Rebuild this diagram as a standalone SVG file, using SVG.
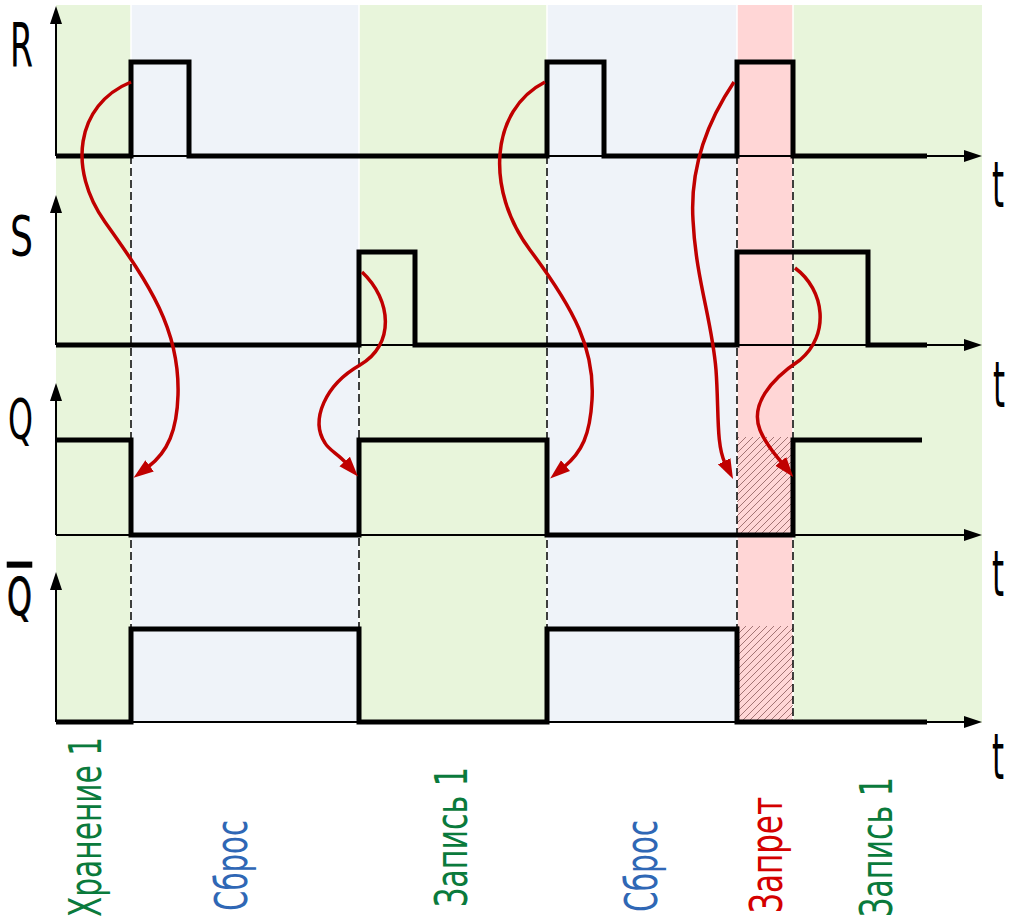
<svg xmlns="http://www.w3.org/2000/svg" width="1013" height="920" viewBox="0 0 1013 920">
<style>
.bg-g{fill:#e8f5db}
.bg-b{fill:#eff3f9}
.bg-r{fill:#ffd6d6}
.sep{stroke:#ffffff;stroke-width:1.5}
.dash{stroke:#000;stroke-width:1.5;stroke-dasharray:8 4;fill:none}
.axis{stroke:#000;stroke-width:2;fill:none;marker-end:url(#axarrow)}
.sig{stroke:#000;stroke-width:5;fill:none;stroke-linejoin:miter}
.cause{stroke:#c00000;stroke-width:3.5;fill:none;marker-end:url(#redarrow)}
.lbl{font-family:"DejaVu Sans Condensed","DejaVu Sans",sans-serif;fill:#000}
.vl{font-family:"DejaVu Sans Condensed","DejaVu Sans",sans-serif;font-size:44px}
.green{fill:#0a7a3c}
.blue{fill:#2f67b5}
.red{fill:#d40000}
</style>
<defs>
<marker id="axarrow" markerUnits="userSpaceOnUse" markerWidth="18" markerHeight="12" viewBox="0 0 18 12" refX="0" refY="6" orient="auto">
<path d="M0,0 L18,6 L0,12 z" fill="#000"/>
</marker>
<marker id="redarrow" markerUnits="userSpaceOnUse" markerWidth="20" markerHeight="16" viewBox="0 0 20 16" refX="2" refY="8" orient="auto">
<path d="M0,1 L20,8 L0,15 z" fill="#c00000"/>
</marker>
<pattern id="hatch" patternUnits="userSpaceOnUse" width="7" height="7">
<path d="M0,7 L7,0 M-1,1 L1,-1 M6,8 L8,6" stroke="#8c5a5a" stroke-width="0.8"/>
</pattern>
</defs>

<g id="bands">
<rect class="bg-g" x="56" y="5" width="75" height="718"/>
<rect class="bg-b" x="131" y="5" width="228" height="718"/>
<rect class="bg-g" x="359" y="5" width="188" height="718"/>
<rect class="bg-b" x="547" y="5" width="190" height="718"/>
<rect class="bg-r" x="737" y="5" width="56" height="718"/>
<rect class="bg-g" x="793" y="5" width="189" height="718"/>
<path class="sep" d="M131,5 V723 M359,5 V723 M547,5 V723 M737,5 V723 M793,5 V723"/>
</g>

<g id="hatches">
<rect x="737" y="437" width="56" height="98" fill="url(#hatch)"/>
<rect x="737" y="626" width="56" height="96" fill="url(#hatch)"/>
</g>

<g id="guides">
<path class="dash" d="M131,156 V722 M359,250 V722 M547,156 V722 M737,156 V722 M793,156 V722"/>
</g>

<g id="axes">
<path class="axis" d="M56,156 V24"/>
<path class="axis" d="M56,156 H964"/>
<path class="axis" d="M56,345 V213"/>
<path class="axis" d="M56,345 H964"/>
<path class="axis" d="M56,535 V401"/>
<path class="axis" d="M56,535 H964"/>
<path class="axis" d="M56,722 V590"/>
<path class="axis" d="M56,722 H964"/>
</g>

<g id="signal-R">
<path class="sig" d="M56,156 H131 V62 H189 V156 H547 V62 H604 V156 H737 V62 H793 V156 H927"/>
</g>
<g id="signal-S">
<path class="sig" d="M56,345 H359 V252 H415 V345 H737 V252 H868 V345 H927"/>
</g>
<g id="signal-Q">
<path class="sig" d="M56,440 H131 V535 H359 V440 H547 V535 H793 V440 H922"/>
</g>
<g id="signal-Qbar">
<path class="sig" d="M56,722 H131 V629 H359 V722 H547 V629 H737 V722 H927"/>
</g>

<g id="connectors">
<path class="cause" d="M131,82 C75,105 68,170 105,222 C150,285 180,330 178,395 C177,430 168,452 148,467"/>
<path class="cause" d="M362,272 C392,300 395,345 360,365 C325,385 310,420 325,443 C329,450 338,454 346,463"/>
<path class="cause" d="M545,82 C490,110 485,190 530,250 C575,310 595,350 592,400 C590,435 582,452 564,467"/>
<path class="cause" d="M734,82 C705,125 690,170 693,220 C696,280 712,320 716,370 C719,410 716,445 725,463"/>
<path class="cause" d="M795,268 C825,290 830,335 800,360 C770,380 750,405 760,430 C766,445 774,453 782,463"/>
</g>

<g id="axis-labels">
<text class="lbl" x="10" y="67" font-size="60" textLength="23" lengthAdjust="spacingAndGlyphs">R</text>
<text class="lbl" x="10" y="255" font-size="55" textLength="23" lengthAdjust="spacingAndGlyphs">S</text>
<text class="lbl" x="8" y="438" font-size="55" textLength="25" lengthAdjust="spacingAndGlyphs">Q</text>
<text class="lbl" x="7" y="615" font-size="52" textLength="25" lengthAdjust="spacingAndGlyphs" style="text-decoration:overline" stroke="#000" stroke-width="0.8">Q</text>
<text class="lbl" x="992" y="207" font-size="64" textLength="12" lengthAdjust="spacingAndGlyphs">t</text>
<text class="lbl" x="993" y="407" font-size="64" textLength="12" lengthAdjust="spacingAndGlyphs">t</text>
<text class="lbl" x="992" y="596" font-size="64" textLength="12" lengthAdjust="spacingAndGlyphs">t</text>
<text class="lbl" x="992" y="779" font-size="64" textLength="12" lengthAdjust="spacingAndGlyphs">t</text>
</g>

<g id="state-labels">
<text class="vl green" transform="translate(101,917) rotate(-90)" textLength="180" lengthAdjust="spacingAndGlyphs">Хранение 1</text>
<text class="vl blue" transform="translate(247,911) rotate(-90)" textLength="91" lengthAdjust="spacingAndGlyphs">Сброс</text>
<text class="vl green" transform="translate(467,907) rotate(-90)" textLength="140" lengthAdjust="spacingAndGlyphs">Запись 1</text>
<text class="vl blue" transform="translate(657,912) rotate(-90)" textLength="92" lengthAdjust="spacingAndGlyphs">Сброс</text>
<text class="vl red" transform="translate(782,913) rotate(-90)" textLength="116" lengthAdjust="spacingAndGlyphs">Запрет</text>
<text class="vl green" transform="translate(892,917) rotate(-90)" textLength="140" lengthAdjust="spacingAndGlyphs">Запись 1</text>
</g>
</svg>
